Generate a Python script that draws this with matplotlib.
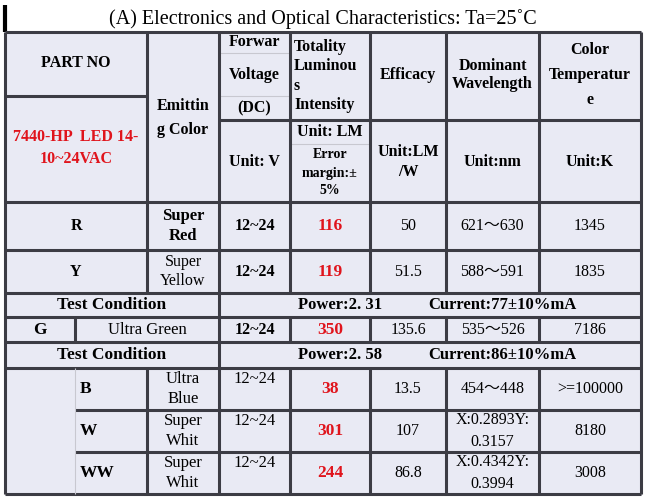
import matplotlib
matplotlib.use("Agg")
import matplotlib.pyplot as plt

plt.rcParams["font.family"] = ["Liberation Serif", "Noto Sans CJK JP", "DejaVu Serif"]

TITLE = "(A) Electronics and Optical Characteristics: Ta=25˚C"
part_no = "7440-HP  LED 14-\n10~24VAC"
col_heads = ["Forwar\n\nVoltage\n\n(DC)", "Totality\nLuminou\ns\nIntensity", "Efficacy", "Dominant\nWavelength", "Color\nTemperatur\ne"]
units = ["Unit: V", "", "Unit:LM\n/W", "Unit:nm", "Unit:K"]

rows_a = ["R", "Y"]
colors_a = ["Super\nRed", "Super\nYellow"]
volt_a = ["12~24", "12~24"]
lum_a = ["116", "119"]
eff_a = ["50", "51.5"]
wave_a = ["621～630", "588～591"]
temp_a = ["1345", "1835"]

cond1 = ("Power:2. 31", "Current:77±10%mA")
g_row = ["G", "Ultra Green", "12~24", "350", "135.6", "535～526", "7186"]
cond2 = ("Power:2. 58", "Current:86±10%mA")

rows_b = ["B", "W", "WW"]
colors_b = ["Ultra\nBlue", "Super\nWhit", "Super\nWhit"]
volt_b = ["12~24", "12~24", "12~24"]
lum_b = ["38", "301", "244"]
eff_b = ["13.5", "107", "86.8"]
wave_b = ["454～448", "X:0.2893Y:\n0.3157", "X:0.4342Y:\n0.3994"]
temp_b = [">=100000", "8180", "3008"]

W, H = 646, 497
X = [5, 147, 219, 290, 370, 446, 539, 641]
XG = 75
Y_TOP, Y_HEAD, Y_UNIT, Y_R, Y_Y, Y_C1, Y_G, Y_C2, Y_B, Y_W, Y_WW, Y_BOT = 5, 32, 120, 202, 250, 293, 317, 342, 368, 410, 452, 494

BG = "#e9eaf4"
LINE = "#3c3c44"
RED = "#e0141c"

fig = plt.figure(figsize=(W / 100, H / 100), dpi=100)
ax = fig.add_axes([0, 0, 1, 1])
ax.set_xlim(0, W)
ax.set_ylim(H, 0)
ax.axis("off")

ax.add_patch(plt.Rectangle((X[0], Y_HEAD), X[-1] - X[0], Y_BOT - Y_HEAD, color=BG, zorder=0))


def hline(y, x0, x1, lw=2.2, c=LINE):
    ax.plot([x0, x1], [y, y], color=c, lw=lw, solid_capstyle="butt", zorder=2)


def vline(x, y0, y1, lw=2.2, c=LINE):
    ax.plot([x, x], [y0, y1], color=c, lw=lw, solid_capstyle="butt", zorder=2)


def txt(x, y, s, bold=True, color="black", size=11.5, ha="center", ls=1.25):
    ax.text(x, y, s, ha=ha, va="center", fontsize=size, color=color,
            fontweight="bold" if bold else "normal", linespacing=ls, zorder=3)


def cx(i, j=None):
    j = i + 1 if j is None else j
    return (X[i] + X[j]) / 2


# title
txt(cx(0, 7), (Y_TOP + Y_HEAD) / 2 + 1, TITLE, bold=False, size=14.5)
vline(X[0], Y_TOP, Y_HEAD, lw=3, c="black")

# outer & horizontal lines
for y in [Y_HEAD, Y_R, Y_Y, Y_C1, Y_G, Y_C2, Y_B, Y_BOT]:
    hline(y, X[0], X[-1])
hline(96, X[0], X[1])
hline(Y_UNIT, X[2], X[-1])
hline(Y_W, XG, X[-1])
hline(Y_WW, XG, X[-1])
hline(53, X[2], X[3], lw=0.8, c="#c8c8d0")
hline(96, X[2], X[3], lw=0.8, c="#c8c8d0")
hline(144, X[3], X[4], lw=0.8, c="#c8c8d0")
vline(X[0], Y_HEAD, Y_BOT)
vline(X[-1], Y_HEAD, Y_BOT)
for x in X[1:-1]:
    vline(x, Y_HEAD, Y_C1)
for x in X[2:-1]:
    vline(x, Y_G, Y_C2)
    vline(x, Y_B, Y_BOT)
vline(XG, Y_G, Y_C2)
vline(X[1], Y_B, Y_BOT)
vline(XG, Y_B, Y_BOT, lw=0.8, c="#c8c8d0")

# header
txt(cx(0), 63, "PART NO")
txt(cx(0), 148, part_no, color=RED, ls=1.5)
txt(cx(1), 118, "Emittin\ng Color", ls=1.75)
txt(cx(2), 42, "Forwar")
txt(cx(2), 75, "Voltage")
txt(cx(2), 108, "(DC)")
txt(X[3] + 4, 76, col_heads[1], ha="left", ls=1.3)
for i in (4, 5, 6):
    txt(cx(i), 75, col_heads[i - 2], ls=1.75 if i == 6 else 1.25)
txt(cx(3), 132, "Unit: LM")
txt(cx(3), 173, "Error\nmargin:±\n5%", size=10, ls=1.5)
txt(cx(2), 162, units[0])
for i in (4, 5, 6):
    txt(cx(i), 162, units[i - 2])

# R / Y
for k, y0, y1 in [(0, Y_R, Y_Y), (1, Y_Y, Y_C1)]:
    ym = (y0 + y1) / 2
    txt(cx(0), ym, rows_a[k])
    txt(cx(1), ym, colors_a[k], bold=(k == 0), size=12 if k == 0 else 11.5, ls=1.3)
    txt(cx(2), ym, volt_a[k])
    txt(cx(3), ym, lum_a[k], color=RED, size=12.5)
    txt(cx(4), ym, eff_a[k], bold=False)
    txt(cx(5), ym, wave_a[k], bold=False)
    txt(cx(6), ym, temp_a[k], bold=False)

# conditions
for (p, c), y0, y1 in [(cond1, Y_C1, Y_G), (cond2, Y_C2, Y_B)]:
    ym = (y0 + y1) / 2
    txt(cx(0, 2), ym, "Test Condition", size=12.5)
    txt(340, ym, p, size=12)
    txt(502, ym, c, size=12)
    vline(X[2], y0, y1)

# G row
ym = (Y_G + Y_C2) / 2
txt((X[0] + XG) / 2, ym, g_row[0], size=12.5)
txt((XG + X[2]) / 2, ym, g_row[1], bold=False, size=12)
txt(cx(2), ym, g_row[2])
txt(cx(3), ym, g_row[3], color=RED, size=12.5)
for i in (4, 5, 6):
    txt(cx(i), ym, g_row[i], bold=False)

# B / W / WW
for k, (y0, y1) in enumerate([(Y_B, Y_W), (Y_W, Y_WW), (Y_WW, Y_BOT)]):
    ym = (y0 + y1) / 2
    txt(XG + 5, ym, rows_b[k], ha="left", size=12.5)
    txt(cx(1), ym, colors_b[k], bold=False, size=12, ls=1.3)
    txt(cx(2), y0 + 11, volt_b[k], bold=False, size=12)
    txt(cx(3), ym, lum_b[k], color=RED, size=12.5)
    txt(cx(4), ym, eff_b[k], bold=False)
    txt(cx(5), ym, wave_b[k], bold=False, ls=1.45)
    txt(cx(6), ym, temp_b[k], bold=False)

fig.savefig("out.png", dpi=100, facecolor="white")
